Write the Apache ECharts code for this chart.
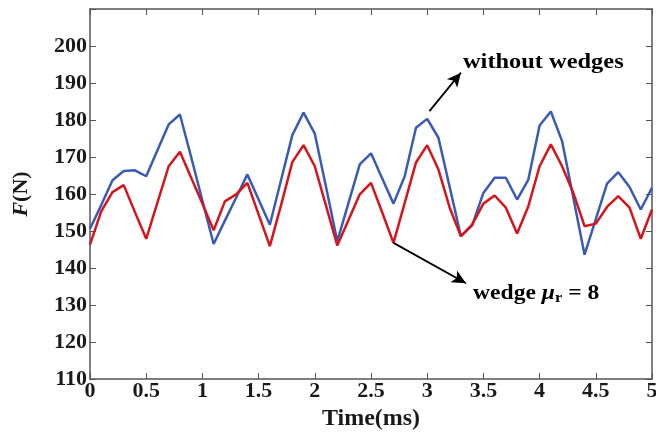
<!DOCTYPE html>
<html>
<head>
<meta charset="utf-8">
<script src="https://cdn.jsdelivr.net/npm/echarts@6/dist/echarts.min.js"></script>
<style>html,body{margin:0;padding:0;background:#fff}#c{width:656px;height:433px}</style>
</head>
<body>
<div id="c"></div>
<script>
const time = [0,0.1,0.2,0.3,0.4,0.5,0.6,0.7,0.8,0.9,1,1.1,1.2,1.3,1.4,1.5,1.6,1.7,1.8,1.9,2,2.1,2.2,2.3,2.4,2.5,2.6,2.7,2.8,2.9,3,3.1,3.2,3.3,3.4,3.5,3.6,3.7,3.8,3.9,4,4.1,4.2,4.3,4.4,4.5,4.6,4.7,4.8,4.9,5];
const withoutWedges = [150.6,157,163.7,166.2,166.4,164.8,171.8,178.8,181.5,170,158.2,146.5,152.8,159,165.3,158.5,151.7,163.8,175.9,182,176.3,161.9,147.2,157.6,168,171,164.2,157.4,164.8,177.9,180.3,175.2,161.9,148.6,151.5,160.3,164.4,164.4,158.5,163.9,178.5,182.3,174.3,159,143.6,153.2,162.8,165.9,161.9,155.8,161.7];
const wedgeMu8 = [146.3,155.3,160.5,162.4,155.1,147.9,157.7,167.5,171.4,164.4,157.4,150.2,158,159.9,163,154.5,145.9,157,168.6,173.2,167.5,156.8,146.1,153,159.9,163,155,146.8,157.6,168.5,173.2,166.6,156.3,148.6,151.7,157.4,159.6,156.3,149.3,156.7,167.5,173.4,167.5,160.3,151.3,152,156.5,159.4,156.3,147.9,155.8];
const xTicks = {min:0, max:5, interval:0.5};
const yTicks = {min:110, max:210, interval:10, hidden:[210]};
const arrowWithout = [[3.02,182.4],[3.3,192.8]];
const arrowWedge = [[2.7,146.8],[3.345,135.9]];

const chart = echarts.init(document.getElementById('c'));
const serif = '"Liberation Serif","Times New Roman",serif';
const axisCol = '#555';
const txt = '#1a1a1a';
const pair = (xs, ys) => xs.map((x,i)=>[x, ys[i]]);
const arrowLine = (pts) => ({
  silent:true, symbol:['none','arrow'], symbolSize:[10,14],
  lineStyle:{color:'#000', width:1.8, type:'solid'}, label:{show:false},
  data:[[{coord:pts[0]},{coord:pts[1]}]]
});
chart.setOption({
  animation:false,
  grid:{left:90, right:4, top:9, bottom:54, containLabel:false, outerBoundsMode:'none'},
  xAxis:[{
    type:'value', min:xTicks.min, max:xTicks.max, interval:xTicks.interval,
    name:'Time(ms)', nameLocation:'middle', nameGap:27,
    nameTextStyle:{fontFamily:serif, fontWeight:'bold', fontSize:24, color:txt},
    axisLine:{show:true, lineStyle:{color:axisCol, width:1.5}},
    axisTick:{show:true, inside:true, length:6, lineStyle:{color:axisCol}},
    axisLabel:{fontFamily:serif, fontWeight:'bold', fontSize:22, color:txt, margin:1},
    splitLine:{show:false}
  },{
    type:'value', position:'top', min:xTicks.min, max:xTicks.max, interval:xTicks.interval,
    axisLine:{show:true, onZero:false, lineStyle:{color:axisCol, width:1.5}},
    axisTick:{show:true, inside:true, length:6, lineStyle:{color:axisCol}},
    axisLabel:{show:false}, splitLine:{show:false}
  }],
  yAxis:[{
    type:'value', min:yTicks.min, max:yTicks.max, interval:yTicks.interval,
    name:'{it|F}{n|(N)}', nameLocation:'middle', nameGap:58, nameRotate:90,
    nameTextStyle:{rich:{
      it:{fontFamily:serif, fontStyle:'italic', fontWeight:'bold', fontSize:22, color:txt},
      n:{fontFamily:serif, fontWeight:'bold', fontSize:22, color:txt}}},
    axisLine:{show:true, lineStyle:{color:axisCol, width:1.5}},
    axisTick:{show:true, inside:true, length:6, lineStyle:{color:axisCol}},
    axisLabel:{fontFamily:serif, fontWeight:'bold', fontSize:22, color:txt, margin:3,
      formatter:v => yTicks.hidden.includes(v) ? '' : String(v)},
    splitLine:{show:false}
  },{
    type:'value', position:'right', min:yTicks.min, max:yTicks.max, interval:yTicks.interval,
    axisLine:{show:true, onZero:false, lineStyle:{color:axisCol, width:1.5}},
    axisTick:{show:true, inside:true, length:6, lineStyle:{color:axisCol}},
    axisLabel:{show:false}, splitLine:{show:false}
  }],
  series:[{
    name:'without wedges', type:'line', data:pair(time, withoutWedges),
    showSymbol:false, lineStyle:{color:'#3a5bb5', width:2.5}, itemStyle:{color:'#3a5bb5'},
    markLine:arrowLine(arrowWithout)
  },{
    name:'wedge', type:'line', data:pair(time, wedgeMu8),
    showSymbol:false, lineStyle:{color:'#d7141c', width:2.5}, itemStyle:{color:'#d7141c'},
    markLine:arrowLine(arrowWedge)
  }],
  graphic:[{
    type:'text', x:463, y:53, scaleX:1.22,
    style:{text:'without wedges', font:'bold 20px ' + serif, fill:'#000'}
  },{
    type:'text', x:473, y:283, scaleX:1.18,
    style:{
      text:'{b|wedge }{m|μ}{s|r}{b| = 8}',
      rich:{
        b:{font:'bold 20px ' + serif, fill:'#000'},
        m:{font:'italic bold 20px ' + serif, fill:'#000'},
        s:{font:'bold 14px ' + serif, fill:'#000', padding:[8,0,0,0]}
      }
    }
  }]
});
</script>
</body>
</html>
